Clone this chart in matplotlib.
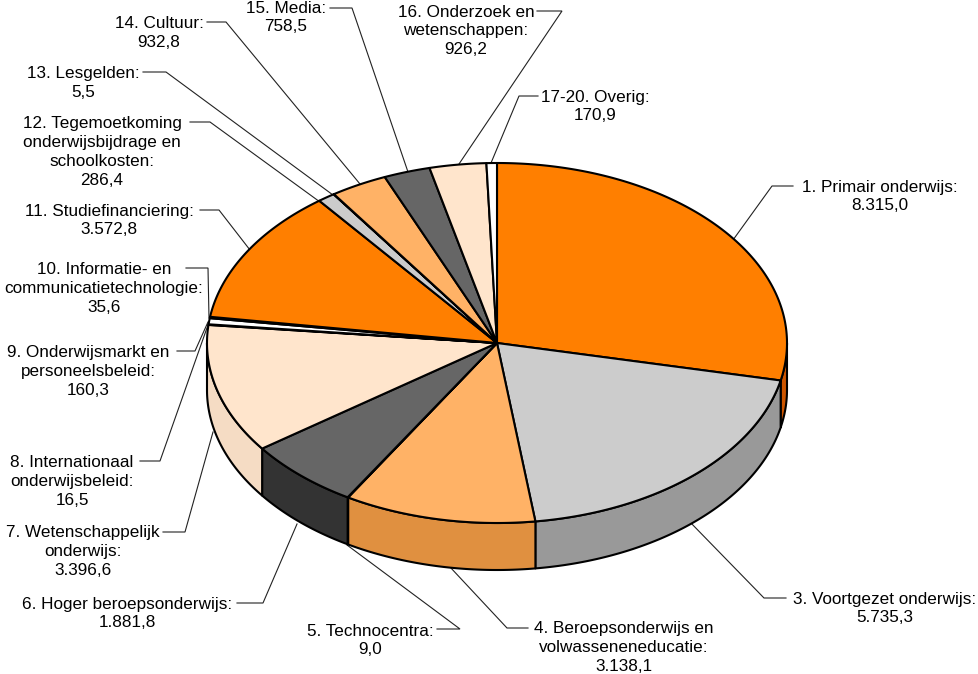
import numpy as np
import matplotlib
matplotlib.use('Agg')
import matplotlib.pyplot as plt
from matplotlib.patches import Polygon

plt.rcParams['font.family'] = ['Liberation Sans', 'DejaVu Sans']

# categories, clockwise from the top of the pie
names = [
    "1. Primair onderwijs:", "3. Voortgezet onderwijs:",
    "4. Beroepsonderwijs en\nvolwasseneneducatie:", "5. Technocentra:",
    "6. Hoger beroepsonderwijs:", "7. Wetenschappelijk\nonderwijs:",
    "8. Internationaal\nonderwijsbeleid:", "9. Onderwijsmarkt en\npersoneelsbeleid:",
    "10. Informatie- en\ncommunicatietechnologie:", "11. Studiefinanciering:",
    "12. Tegemoetkoming\nonderwijsbijdrage en\nschoolkosten:", "13. Lesgelden:",
    "14. Cultuur:", "15. Media:", "16. Onderzoek en\nwetenschappen:", "17-20. Overig:",
]
values = [8315.0, 5735.3, 3138.1, 9.0, 1881.8, 3396.6, 16.5, 160.3,
          35.6, 3572.8, 286.4, 5.5, 932.8, 758.5, 926.2, 170.9]
top_colors = ['#FF7F00', '#CCCCCC', '#FFB266', '#FFFFFF', '#666666', '#FFE5CC', '#FFFFFF', '#FFFFFF',
              '#FFFFFF', '#FF7F00', '#CCCCCC', '#FFB266', '#FFB266', '#666666', '#FFE5CC', '#FFFFFF']
side_colors = ['#CC5500', '#999999', '#E09040', '#CCCCCC', '#333333', '#F5DCC4', '#CCCCCC', '#CCCCCC',
               '#CCCCCC', '#CC5500', '#999999', '#E09040', '#E09040', '#333333', '#F5DCC4', '#CCCCCC']

# label centres in pixels
label_x = [880, 885, 624, 370, 127, 83, 72, 88, 104, 109, 102, 83, 159, 286, 466, 595]
label_y = [196.5, 608.5, 647.5, 640.5, 613.5, 551.5, 481.5, 371.5, 288.5, 220.5, 152, 83, 33, 17.5, 31, 106.5]

leaders = [
    [(793, 186), (772, 186), (733, 240)],
    [(786, 598), (764, 598), (688, 520)],
    [(528, 628), (507, 628), (450, 567)],
    [(437, 629), (460, 629), (347, 545)],
    [(237, 603), (263, 603), (297, 524)],
    [(163, 532), (185, 532), (213, 432)],
    [(140, 461), (160, 461), (208, 325)],
    [(177, 351), (195, 351), (208, 322)],
    [(186, 268), (208, 268), (209, 318)],
    [(200, 210), (219, 210), (250, 250)],
    [(190, 122), (210, 122), (320, 202)],
    [(143, 72), (166, 72), (333, 195)],
    [(207, 22), (226, 22), (360, 184)],
    [(330, 8), (352, 8), (408, 172)],
    [(537, 11), (562, 11), (459, 164)],
    [(538, 96), (519, 96), (491, 163)],
]

cx, cy = 497, 343
rx, ry = 290, 180
depth = 47


def rim(a, b, dy=0):
    # points on the ellipse, angles clockwise from the top in degrees
    t = np.radians(np.linspace(a, b, max(int(abs(b - a) * 2), 2)))
    return np.column_stack([cx + rx * np.sin(t), cy - ry * np.cos(t) + dy])


def dutch(v):
    return f"{v:,.1f}".replace(",", "#").replace(".", ",").replace("#", ".")


fig = plt.figure(figsize=(9.79, 6.74), dpi=100)
ax = fig.add_axes([0, 0, 1, 1])
ax.set_xlim(0, 979)
ax.set_ylim(674, 0)
ax.axis('off')

edges = np.concatenate([[0], np.cumsum(values)]) / sum(values) * 360

# front wall
for i in range(len(values)):
    a, b = max(edges[i], 90), min(edges[i + 1], 270)
    if b <= a:
        continue
    pts = np.vstack([rim(a, b), rim(a, b, depth)[::-1]])
    ax.add_patch(Polygon(pts, closed=True, fc=side_colors[i], ec='black', lw=1.5, joinstyle='round', zorder=2))

# top face
for i in range(len(values)):
    pts = np.vstack([[(cx, cy)], rim(edges[i], edges[i + 1])])
    ax.add_patch(Polygon(pts, closed=True, fc=top_colors[i], ec='black', lw=1.5, joinstyle='round', zorder=3))

# leader lines
for pts in leaders:
    xs, ys = zip(*pts)
    ax.plot(xs, ys, color='#222222', lw=0.8, zorder=1, solid_joinstyle='miter')

for i in range(len(values)):
    ax.text(label_x[i], label_y[i], names[i] + "\n" + dutch(values[i]), ha='center', va='center',
            fontsize=12.3, linespacing=1.33, color='black', zorder=5)

fig.savefig('out.png', dpi=100)
